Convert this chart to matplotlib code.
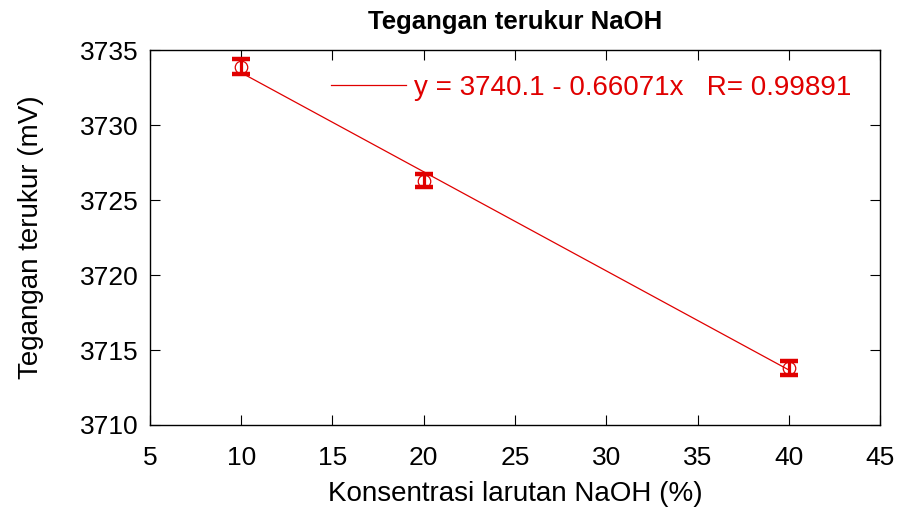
import numpy as np
import matplotlib
matplotlib.use("Agg")
import matplotlib.pyplot as plt

plt.rcParams['font.family'] = ['Liberation Sans', 'DejaVu Sans']

# data
konsentrasi = [10, 20, 40]
tegangan = [3733.9, 3726.3, 3713.8]
galat = [0.5, 0.45, 0.5]
fit_coef = [3740.1, -0.66071]  # intercept, slope
r_value = 0.99891

fig = plt.figure(figsize=(8.98, 5.17), dpi=100)
ax = fig.add_axes([0.167, 0.178, 0.813, 0.725])

red = '#e00000'
xf = np.array([konsentrasi[0], konsentrasi[-1]])
ax.plot(xf, fit_coef[0] + fit_coef[1] * xf, color=red, lw=0.9, zorder=2,
        label='y = %.1f - %.5fx   R= %.5f' % (fit_coef[0], -fit_coef[1], r_value))
ax.errorbar(konsentrasi, tegangan, yerr=galat, fmt='none', ecolor=red,
            elinewidth=2.3, capsize=6.5, capthick=3.2, zorder=3)
ax.plot(konsentrasi, tegangan, 'o', mfc='none', mec=red, ms=9, mew=0.9, zorder=4)

ax.set_xlim(5, 45)
ax.set_ylim(3710, 3735)
ax.set_xticks(np.arange(5, 46, 5))
ax.set_yticks(np.arange(3710, 3736, 5))
ax.tick_params(direction='in', top=True, right=True, labelsize=19, length=7)
ax.tick_params(axis='x', pad=15)
ax.tick_params(axis='y', pad=8)
for s in ax.spines.values():
    s.set_linewidth(1.0)

ax.set_title('Tegangan terukur NaOH', fontsize=18.5, fontweight='bold', pad=15)
ax.set_xlabel('Konsentrasi larutan NaOH (%)', fontsize=20, labelpad=8)
ax.set_ylabel('Tegangan terukur (mV)', fontsize=20, labelpad=26)

leg = ax.legend(loc='center right', bbox_to_anchor=(0.961, 0.899), frameon=False,
                fontsize=20, handlelength=2.7, handletextpad=0.3,
                borderaxespad=0, borderpad=0)
for t in leg.get_texts():
    t.set_color(red)

fig.savefig('out.png', dpi=100)
